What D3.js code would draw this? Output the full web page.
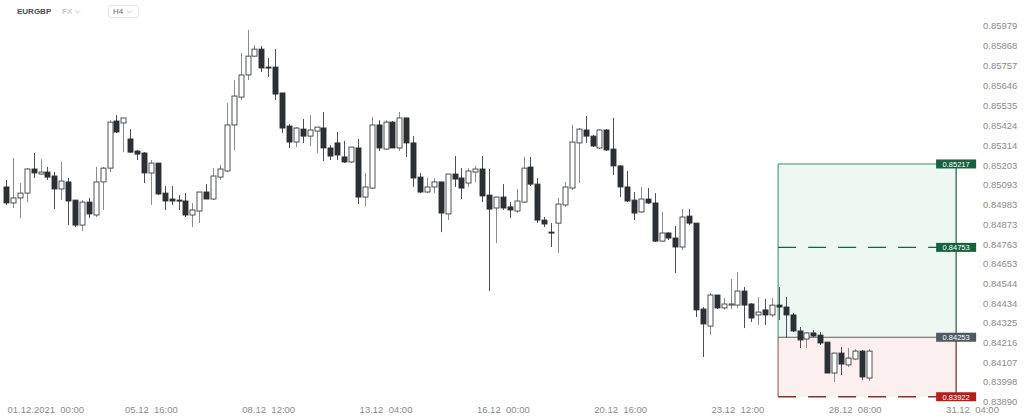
<!DOCTYPE html>
<html><head><meta charset="utf-8">
<script src="https://cdn.jsdelivr.net/npm/d3@7"></script>
<style>
html,body{margin:0;padding:0;background:#fff;}
svg{display:block;font-family:"Liberation Sans",Arial,sans-serif;}
</style></head><body>
<svg id="c" width="1033" height="417"></svg>
<script>
const opens = [0.85089,0.85000,0.85028,0.85055,0.85189,0.85161,0.85172,0.85150,0.85078,0.85117,
0.85016,0.84877,0.85005,0.84933,0.85117,0.85194,0.85456,0.85445,0.85356,0.85289,
0.85278,0.85167,0.85222,0.85055,0.85022,0.85016,0.85011,0.84933,0.84955,0.85061,
0.85022,0.85144,0.85178,0.85434,0.85589,0.85712,0.85817,0.85856,0.85756,0.85756,
0.85612,0.85428,0.85339,0.85411,0.85372,0.85400,0.85417,0.85306,0.85334,0.85256,
0.85228,0.85306,0.85033,0.85083,0.85434,0.85300,0.85450,0.85306,0.85473,0.85334,
0.85144,0.85061,0.85089,0.85117,0.84939,0.85161,0.85139,0.85111,0.85172,0.85189,
0.85044,0.84972,0.85033,0.84978,0.84955,0.85005,0.85200,0.85105,0.84905,0.84838,
0.84888,0.84989,0.85083,0.85334,0.85406,0.85372,0.85306,0.85406,0.85300,0.85206,
0.85089,0.85016,0.84950,0.85022,0.85000,0.84788,0.84833,0.84805,0.84755,0.84927,
0.84888,0.84410,0.84315,0.84488,0.84416,0.84432,0.84432,0.84510,0.84438,0.84377,
0.84405,0.84377,0.84432,0.84421,0.84377,0.84288,0.84243,0.84277,0.84265,0.84226,
0.84054,0.84165,0.84099,0.84132,0.84176,0.84026];
const highs = [0.85128,0.85250,0.85111,0.85194,0.85278,0.85244,0.85200,0.85172,0.85228,0.85139,
0.85016,0.85016,0.85028,0.85200,0.85200,0.85461,0.85489,0.85473,0.85411,0.85295,
0.85283,0.85239,0.85222,0.85094,0.85094,0.85044,0.85055,0.85000,0.85061,0.85105,
0.85194,0.85211,0.85556,0.85684,0.85834,0.85962,0.85879,0.85873,0.85806,0.85856,
0.85612,0.85439,0.85422,0.85467,0.85489,0.85422,0.85506,0.85322,0.85395,0.85345,
0.85311,0.85356,0.85167,0.85478,0.85461,0.85461,0.85456,0.85506,0.85473,0.85372,
0.85167,0.85139,0.85139,0.85117,0.85161,0.85261,0.85194,0.85194,0.85206,0.85261,
0.85189,0.85033,0.85105,0.85005,0.85078,0.85256,0.85256,0.85139,0.84922,0.84888,
0.85028,0.85117,0.85434,0.85417,0.85484,0.85378,0.85411,0.85411,0.85473,0.85211,
0.85178,0.85061,0.85089,0.85083,0.85055,0.84950,0.84838,0.84872,0.84966,0.84966,
0.84888,0.84421,0.84499,0.84488,0.84471,0.84577,0.84616,0.84532,0.84443,0.84477,
0.84466,0.84471,0.84532,0.84477,0.84388,0.84310,0.84282,0.84293,0.84282,0.84226,
0.84165,0.84199,0.84193,0.84188,0.84182,0.84188];
const lows = [0.84989,0.84972,0.84916,0.85005,0.85139,0.85156,0.85128,0.84966,0.85016,0.84877,
0.84866,0.84844,0.84916,0.84922,0.84961,0.85172,0.85389,0.85283,0.85278,0.85239,
0.85111,0.84989,0.85044,0.84961,0.84989,0.84961,0.84922,0.84866,0.84888,0.85022,
0.85016,0.85128,0.85172,0.85295,0.85573,0.85684,0.85812,0.85728,0.85701,0.85573,
0.85389,0.85306,0.85311,0.85334,0.85317,0.85278,0.85233,0.85239,0.85239,0.85222,
0.85222,0.84994,0.84983,0.85078,0.85289,0.85295,0.85306,0.85289,0.85256,0.85089,
0.85055,0.85055,0.85055,0.84838,0.84905,0.85089,0.85022,0.85089,0.85117,0.85005,
0.84510,0.84777,0.84961,0.84916,0.84944,0.85000,0.85094,0.84888,0.84866,0.84755,
0.84722,0.84978,0.85072,0.85111,0.85334,0.85311,0.85300,0.85289,0.85156,0.85033,
0.85005,0.84905,0.84944,0.84994,0.84783,0.84783,0.84794,0.84610,0.84738,0.84877,
0.84366,0.84143,0.84265,0.84410,0.84405,0.84410,0.84416,0.84304,0.84338,0.84321,
0.84321,0.84366,0.84349,0.84249,0.84282,0.84193,0.84193,0.84254,0.84210,0.84054,
0.84004,0.84043,0.84087,0.84126,0.84015,0.84010];
const closes = [0.85000,0.85028,0.85055,0.85189,0.85167,0.85172,0.85144,0.85078,0.85122,0.85011,
0.84877,0.85005,0.84939,0.85117,0.85194,0.85450,0.85395,0.85473,0.85283,0.85272,
0.85167,0.85222,0.85050,0.85011,0.85011,0.85011,0.84933,0.84961,0.85061,0.85022,
0.85150,0.85189,0.85434,0.85595,0.85712,0.85817,0.85856,0.85751,0.85751,0.85606,
0.85417,0.85339,0.85417,0.85372,0.85406,0.85422,0.85306,0.85261,0.85267,0.85228,
0.85311,0.85033,0.85089,0.85434,0.85306,0.85450,0.85306,0.85473,0.85334,0.85139,
0.85061,0.85089,0.85117,0.84944,0.85161,0.85133,0.85083,0.85178,0.85189,0.85039,
0.84966,0.85033,0.84972,0.84961,0.85011,0.85194,0.85105,0.84905,0.84883,0.84833,
0.84994,0.85089,0.85339,0.85411,0.85372,0.85317,0.85406,0.85295,0.85206,0.85089,
0.85011,0.84944,0.85022,0.85000,0.84788,0.84833,0.84805,0.84755,0.84922,0.84888,
0.84405,0.84327,0.84488,0.84416,0.84438,0.84438,0.84510,0.84432,0.84360,0.84393,
0.84377,0.84432,0.84421,0.84377,0.84288,0.84238,0.84277,0.84260,0.84221,0.84054,
0.84165,0.84104,0.84137,0.84176,0.84032,0.84176];

const priceTicks = [0.83890,0.83998,0.84107,0.84216,0.84325,0.84434,0.84544,0.84653,0.84763,0.84873,
0.84983,0.85093,0.85203,0.85314,0.85424,0.85535,0.85646,0.85757,0.85868,0.85979];
const timeTickIdx = [0,21,38,55,72,89,106,123,140];
const timeTickLabels = ["01.12.2021  00:00","05.12  16:00","08.12  12:00","13.12  04:00","16.12  00:00",
"20.12  16:00","23.12  12:00","28.12  08:00","31.12  04:00"];

// long position tool
const posTarget = 0.85217, posMid = 0.84753, posEntry = 0.84253, posStop = 0.83922;
const posStartIdx = 111.9, posEndIdx = 137.7;

const svg = d3.select("#c");
const x = d3.scaleLinear().domain([0,140]).range([6,972]);
const y = d3.scaleLinear().domain([0.83890,0.85979]).range([402.5,27]);

// header
const hdr = svg.append("g").attr("font-size",8);
hdr.append("text").attr("x",17).attr("y",14).attr("fill","#4a4f55").attr("font-weight","bold").text("EURGBP");
hdr.append("text").attr("x",62).attr("y",14).attr("fill","#b5b5b5").text("FX");
hdr.append("path").attr("d","M75,10.5 l2.5,2.5 l2.5,-2.5").attr("fill","none").attr("stroke","#b5b5b5").attr("stroke-width",0.8);
hdr.append("rect").attr("x",108.5).attr("y",5.5).attr("width",30).attr("height",12).attr("rx",2).attr("fill","#fff").attr("stroke","#e3e3e3");
hdr.append("text").attr("x",113).attr("y",14).attr("fill","#6a6a6a").text("H4");
hdr.append("path").attr("d","M127,10.5 l2.5,2.5 l2.5,-2.5").attr("fill","none").attr("stroke","#b5b5b5").attr("stroke-width",0.8);

// position box
const bx0 = x(posStartIdx), bx1 = x(posEndIdx);
const pg = svg.append("g");
pg.append("rect").attr("x",bx0).attr("y",y(posTarget)).attr("width",bx1-bx0).attr("height",y(posEntry)-y(posTarget)).attr("fill","#eef8f3");
pg.append("rect").attr("x",bx0).attr("y",y(posEntry)).attr("width",bx1-bx0).attr("height",y(posStop)-y(posEntry)).attr("fill","#fcefef");
pg.append("line").attr("x1",bx0).attr("x2",bx1).attr("y1",y(posTarget)).attr("y2",y(posTarget)).attr("stroke","#3f8a69").attr("stroke-width",1);
pg.append("line").attr("x1",bx0).attr("x2",bx0).attr("y1",y(posTarget)).attr("y2",y(posEntry)).attr("stroke","#5a9d80").attr("stroke-width",1.2);
pg.append("line").attr("x1",bx1).attr("x2",bx1).attr("y1",y(posTarget)).attr("y2",y(posEntry)).attr("stroke","#1f5c42").attr("stroke-width",1.2);
pg.append("line").attr("x1",bx0).attr("x2",bx0).attr("y1",y(posEntry)).attr("y2",y(posStop)).attr("stroke","#a86a6a").attr("stroke-width",1.2);
pg.append("line").attr("x1",bx1).attr("x2",bx1).attr("y1",y(posEntry)).attr("y2",y(posStop)).attr("stroke","#6e3030").attr("stroke-width",1.2);
pg.append("line").attr("x1",bx0).attr("x2",bx1).attr("y1",y(posMid)).attr("y2",y(posMid)).attr("stroke","#1f5c42").attr("stroke-width",1.4).attr("stroke-dasharray","18,12");
pg.append("line").attr("x1",bx0).attr("x2",bx1).attr("y1",y(posEntry)).attr("y2",y(posEntry)).attr("stroke","#5a5f64").attr("stroke-width",1.2);
pg.append("line").attr("x1",bx0).attr("x2",bx1).attr("y1",y(posStop)).attr("y2",y(posStop)).attr("stroke","#8a2e2e").attr("stroke-width",1.4).attr("stroke-dasharray","18,12");

// candles
const cg = svg.append("g");
const n = opens.length;
for (let i=0;i<n;i++){
  const up = closes[i] >= opens[i];
  const cx = Math.round(x(i))+0.5;
  cg.append("line").attr("x1",cx).attr("x2",cx).attr("y1",y(highs[i])).attr("y2",y(lows[i]))
    .attr("stroke", up ? "#8a8d90" : "#4a4f54").attr("stroke-width",1);
  const top = y(Math.max(opens[i],closes[i])), bot = y(Math.min(opens[i],closes[i]));
  const h = Math.max(1, bot-top);
  cg.append("rect").attr("x",cx-2.5).attr("y",top).attr("width",5).attr("height",h)
    .attr("fill", up ? "#ffffff" : "#2b3035").attr("stroke", up ? "#3a3f44" : "#2b3035").attr("stroke-width",0.9);
}

// position labels
const labs = [[posTarget,"#17613f"],[posMid,"#17613f"],[posEntry,"#4e5b63"],[posStop,"#b51d1d"]];
labs.forEach(([v,col])=>{
  const g = svg.append("g").attr("transform",`translate(${bx1},${y(v)})`);
  g.append("rect").attr("x",-20).attr("y",-4.5).attr("width",40).attr("height",9).attr("fill",col);
  g.append("text").attr("x",0).attr("y",3).attr("text-anchor","middle").attr("fill","#fff").attr("font-size",7.5).text(v.toFixed(5));
});

// right price axis
const ya = svg.append("g").attr("transform","translate(983,-1.5)")
  .call(d3.axisRight(y).tickValues(priceTicks).tickFormat(d3.format(".5f")).tickSize(0).tickPadding(0));
ya.select(".domain").remove();
ya.selectAll("text").attr("fill","#8c8c8c").attr("font-size",9.5).attr("font-family","Liberation Sans, Arial, sans-serif").attr("text-anchor","start");

// bottom time axis
const xa = svg.append("g").attr("transform","translate(0,403)")
  .call(d3.axisBottom(x).tickValues(timeTickIdx).tickFormat((d,i)=>timeTickLabels[i]).tickSize(0).tickPadding(3));
xa.select(".domain").remove();
xa.selectAll("text").attr("fill","#8c8c8c").attr("font-size",9.5).attr("font-family","Liberation Sans, Arial, sans-serif").style("white-space","pre");
xa.selectAll("text").filter((d,i)=>i===0).attr("text-anchor","start").attr("dx",1);
</script>
</body></html>
